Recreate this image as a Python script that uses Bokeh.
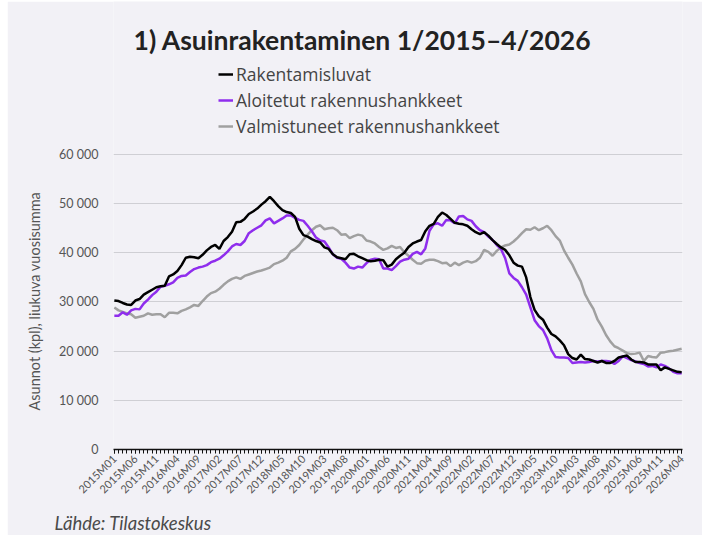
import math
from bokeh.plotting import figure
from bokeh.models import (Range1d, FixedTicker, Legend, LegendItem, Label, Title, ColumnDataSource)
from bokeh.embed import file_html
from bokeh.resources import INLINE

# ---------------- data ----------------
tick_labels = ["2015M01", "2015M06", "2015M11", "2016M04", "2016M09", "2017M02", "2017M07",
               "2017M12", "2018M05", "2018M10", "2019M03", "2019M08", "2020M01", "2020M06",
               "2020M11", "2021M04", "2021M09", "2022M02", "2022M07", "2022M12", "2023M05",
               "2023M10", "2024M03", "2024M08", "2025M01", "2025M06", "2025M11", "2026M04"]

rakentamisluvat = [
    30300, 30200, 29800, 29500, 29400, 30300, 30600, 31500, 32000, 32500,
    33000, 33200, 33300, 35200, 35600, 36300, 37500, 39000, 39200, 39100,
    38900, 39600, 40500, 41200, 41600, 40800, 42400, 43200, 44300, 46200,
    46300, 46900, 47900, 48400, 49000, 49800, 50500, 51400, 50500, 49500,
    48700, 48300, 48100, 47300, 44900, 43600, 43300, 42800, 42400, 42100,
    41100, 40800, 39700, 39100, 38900, 38700, 39700, 39800, 39300, 38900,
    38500, 38300, 38400, 38600, 38500, 37200, 37600, 38700, 39400, 40000,
    41200, 41900, 42300, 42600, 44400, 45500, 45900, 47300, 48200, 47700,
    46900, 46100, 45900, 45800, 45500, 44800, 44200, 43800, 44200, 43500,
    42600, 41800, 41100, 40600, 39500, 38000, 37400, 37200, 35000, 31000,
    28400, 27100, 26400, 24800, 23500, 23000, 22200, 21200, 19400, 18600,
    18300, 19300, 18400, 18300, 18000, 17700, 18000, 17600, 17600, 18000,
    18700, 18900, 19100, 18300, 17800, 17800, 17700, 17300, 17300, 17300,
    16100, 16700, 16400, 16100, 15800, 15700]

aloitetut = [
    27200, 27200, 27900, 27400, 28300, 28600, 28500, 29700, 30500, 31400,
    32100, 33100, 33300, 33600, 34000, 34900, 35300, 35400, 36100, 36700,
    37000, 37200, 37500, 38100, 38400, 38800, 39500, 40300, 41300, 41800,
    41600, 42400, 44000, 44600, 45100, 45600, 46600, 47000, 46000, 46500,
    47000, 47600, 47600, 47100, 46700, 46500, 45500, 44400, 43100, 42500,
    42300, 41100, 39700, 39000, 38800, 38000, 37000, 36800, 37200, 37000,
    37900, 38600, 38800, 38700, 36800, 36800, 36500, 37300, 38200, 38600,
    38800, 39800, 40200, 39700, 40900, 44500, 45800, 46000, 45500, 46700,
    46600, 46000, 47400, 47500, 46800, 46500, 45400, 44600, 44200, 43300,
    42600, 41600, 40800, 38900, 35800, 34900, 34300, 33000, 31500, 28900,
    26300, 25100, 24300, 22600, 20200, 18800, 18700, 18700, 18600, 17600,
    17700, 17800, 17700, 17800, 18000, 17900, 18000, 18000, 17900, 17400,
    18000, 19000, 18600, 18200, 17900, 17600, 17400, 16900, 17000, 16700,
    17300, 17000, 16500, 15800, 15500, 15500]

valmistuneet = [
    28900, 28300, 28000, 27700, 27500, 26800, 27000, 27200, 27700, 27400,
    27500, 27500, 26900, 27800, 27800, 27700, 28200, 28500, 28900, 29400,
    29200, 30200, 31100, 31800, 32100, 32700, 33500, 34200, 34700, 35000,
    34700, 35300, 35600, 35900, 36200, 36400, 36700, 37000, 37700, 38000,
    38400, 39000, 40300, 40800, 41600, 42700, 43700, 44600, 45300, 45600,
    44800, 45000, 45100, 44600, 43700, 43800, 43000, 43400, 43700, 43500,
    42500, 42300, 41900, 41200, 40600, 40900, 41400, 41000, 41200, 40100,
    39400, 38600, 37900, 37800, 38400, 38600, 38600, 38300, 37900, 38000,
    37300, 38000, 37500, 38000, 38300, 38000, 38300, 39000, 40600, 40200,
    39400, 40400, 41100, 41500, 41700, 42300, 43100, 44000, 44800, 44700,
    45200, 44600, 45000, 45500, 44600, 43400, 42500, 40500, 39000, 37600,
    35800, 34200, 31600, 30000, 28600, 26400, 25000, 23300, 22000, 21000,
    20600, 20100, 19600, 19400, 19500, 19700, 18000, 19000, 18800, 18700,
    19700, 19800, 20000, 20100, 20300, 20500]

y_ticks = [0, 10000, 20000, 30000, 40000, 50000, 60000]
y_tick_labels = ["0", "10 000", "20 000", "30 000", "40 000", "50 000", "60 000"]

series_names = ["Rakentamisluvat", "Aloitetut rakennushankkeet", "Valmistuneet rakennushankkeet"]
series_colors = ["#000000", "#8f2ded", "#a0a0a0"]

# ---------------- layout ----------------
BG = "#f2f1f6"
OX, OY = 8, 1            # where the canvas lands on the page
W, H = 695, 548
FRAME_LEFT, FRAME_RIGHT = 106, 20
FRAME_BOTTOM = 100
X0, X1 = -0.2, len(rakentamisluvat) - 1 + 0.2
fh = H - FRAME_BOTTOM
fw = W - FRAME_LEFT - FRAME_RIGHT
Y_TOP = fh / 0.0049167
frame_bottom_abs = OY + fh

months = list(range(len(rakentamisluvat)))
src = ColumnDataSource(dict(m=months, r=rakentamisluvat, a=aloitetut, v=valmistuneet))

p = figure(width=W, height=H, output_backend="svg", toolbar_location=None,
           title_location=None,
           x_range=Range1d(X0, X1), y_range=Range1d(0, Y_TOP),
           min_border_left=FRAME_LEFT, min_border_right=FRAME_RIGHT,
           min_border_top=0, min_border_bottom=FRAME_BOTTOM)
p.styles = {"margin-left": "7px", "margin-top": "1px"}
p.background_fill_color = BG
p.border_fill_color = BG
p.outline_line_color = None

def dx(abs_px):
    return X0 + (abs_px - OX - FRAME_LEFT) * (X1 - X0) / fw
def dy(abs_py):
    return (fh - (abs_py - OY)) * Y_TOP / fh

r_val = p.line("m", "v", source=src, color=series_colors[2], line_width=2.5)
r_alo = p.line("m", "a", source=src, color=series_colors[1], line_width=2.5)
r_rak = p.line("m", "r", source=src, color=series_colors[0], line_width=2.5)

# axes
major = list(range(0, len(months), 5))
p.xaxis.ticker = FixedTicker(ticks=major, minor_ticks=months)
p.xaxis.major_label_overrides = {t: lab for t, lab in zip(major, tick_labels)}
p.xaxis.major_label_orientation = math.pi / 4
p.xaxis.major_label_text_font = "Lato"
p.xaxis.major_label_text_font_size = "11px"
p.xaxis.major_label_text_color = "#555555"
p.xaxis.major_label_standoff = 3
p.xaxis.axis_line_color = "#111111"
p.xaxis.axis_line_width = 1.5
p.xaxis.major_tick_line_color = "#111111"
p.xaxis.minor_tick_line_color = "#111111"
p.xaxis.major_tick_in = 0
p.xaxis.major_tick_out = 4
p.xaxis.minor_tick_in = 0
p.xaxis.minor_tick_out = 4

p.yaxis.ticker = FixedTicker(ticks=y_ticks, minor_ticks=[])
p.yaxis.major_label_overrides = {t: lab for t, lab in zip(y_ticks, y_tick_labels)}
p.yaxis.major_label_text_font = "Lato"
p.yaxis.major_label_text_font_size = "12.5px"
p.yaxis.major_label_text_color = "#555555"
p.yaxis.major_label_standoff = 9
p.yaxis.axis_line_color = None
p.yaxis.major_tick_line_color = None
p.yaxis.minor_tick_line_color = None

p.xgrid.grid_line_color = None
p.ygrid.ticker = FixedTicker(ticks=y_ticks)
p.ygrid.grid_line_color = "#cfcfd4"
p.ygrid.grid_line_width = 1

# title (inside the tall frame)
p.add_layout(Label(x=dx(363), y=dy(39), text="1) Asuinrakentaminen 1/2015\u20134/2026",
                   text_font="Lato", text_font_style="bold", text_font_size="26.5px",
                   text_color="#222222", text_align="center", text_baseline="middle"))

# y axis label as a side title
p.add_layout(Title(text="Asunnot (kpl), liukuva vuosisumma", align="left", offset=39,
                   text_font="Lato", text_font_style="normal", text_font_size="14.5px",
                   text_color="#555555", standoff=27), "left")
# source below
p.add_layout(Title(text="L\u00e4hde: Tilastokeskus", align="left", offset=-59,
                   text_font="Lato", text_font_style="italic", text_font_size="18.5px",
                   text_color="#4a4a4a", standoff=15), "below")

legend = Legend(items=[LegendItem(label=series_names[0], renderers=[r_rak]),
                       LegendItem(label=series_names[1], renderers=[r_alo]),
                       LegendItem(label=series_names[2], renderers=[r_val])],
                location=(219 - OX - FRAME_LEFT, frame_bottom_abs - 138),
                orientation="vertical", padding=0, margin=0, spacing=2,
                glyph_width=15, glyph_height=20, label_height=20, label_standoff=3,
                label_text_font="Open Sans", label_text_font_size="17.5px",
                label_text_color="#444444",
                background_fill_alpha=0, border_line_color=None)
p.add_layout(legend, "center")

open("out.html", "w").write(file_html(p, INLINE))
